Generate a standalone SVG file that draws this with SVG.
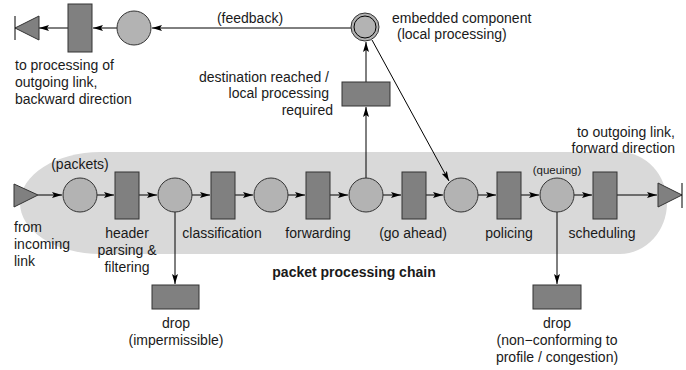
<svg xmlns="http://www.w3.org/2000/svg" width="686" height="370" viewBox="0 0 686 370">
<defs>
<marker id="ah" viewBox="0 0 10 6" refX="10" refY="3" markerWidth="10" markerHeight="6" markerUnits="userSpaceOnUse" orient="auto">
<path d="M0,0 L10,3 L0,6 L2,3 z" fill="#000"/>
</marker>
<style>
.c{fill:#b3b3b3;stroke:#333;stroke-width:1}
.r{fill:#808080;stroke:#333;stroke-width:1}
.t{fill:#808080;stroke:#333;stroke-width:1}
.e{stroke:#000;stroke-width:1;fill:none}
.a{stroke:#000;stroke-width:1;fill:none;marker-end:url(#ah)}
text{font-family:"Liberation Sans",Arial,sans-serif;font-size:14px;fill:#1a1a1a}
.m{text-anchor:middle}
.n{text-anchor:end}
.b{font-weight:bold}
.s{font-size:11.5px}
</style>
</defs>
<path id="chain-bg" d="M100,152 H620 A47,51 0 0 1 620,254 H100 A80,51 0 0 1 100,152 Z" fill="#d9d9d9"/>
<g id="connectors">
<path class="a" d="M38,195 H62"/>
<path class="a" d="M97,195 H114"/>
<path class="a" d="M139,195 H157"/>
<path class="a" d="M192,195 H210"/>
<path class="a" d="M235,195 H253"/>
<path class="a" d="M288,195 H305"/>
<path class="a" d="M330,195 H348"/>
<path class="a" d="M383,195 H401"/>
<path class="a" d="M426,195 H443"/>
<path class="a" d="M478,195 H496"/>
<path class="a" d="M521,195 H539"/>
<path class="a" d="M574,195 H592"/>
<path class="a" d="M617,195 H657"/>
<path class="a" d="M175,212 V284"/>
<path class="a" d="M557,212 V284"/>
<path class="a" d="M366,178 V107"/>
<path class="a" d="M366,82 V42"/>
<path class="a" d="M372,40 L449,181"/>
<path class="a" d="M351,28 H152"/>
<path class="a" d="M117,28 H93"/>
<path class="a" d="M68,28 H39"/>
</g>
<g id="in-link"><path class="t" d="M14,184 L38,195 L14,207 z"/></g>
<g id="out-link-fwd"><path class="t" d="M658,183 L682,195 L658,207 z"/><path class="e" d="M682,183 V208"/></g>
<g id="out-link-bwd"><path class="t" d="M39,16 L15,28 L39,40 z"/><path class="e" d="M15,16 V40"/></g>
<g id="q1"><circle class="c" cx="80" cy="195" r="17"/></g>
<g id="p-header"><rect class="r" x="115" y="172" width="24" height="47"/></g>
<g id="q2"><circle class="c" cx="175" cy="195" r="17"/></g>
<g id="p-class"><rect class="r" x="211" y="172" width="24" height="47"/></g>
<g id="q3"><circle class="c" cx="271" cy="195" r="17"/></g>
<g id="p-fwd"><rect class="r" x="306" y="172" width="24" height="47"/></g>
<g id="q4"><circle class="c" cx="366" cy="195" r="17"/></g>
<g id="p-goahead"><rect class="r" x="402" y="172" width="24" height="47"/></g>
<g id="q5"><circle class="c" cx="461" cy="195" r="17"/></g>
<g id="p-police"><rect class="r" x="497" y="172" width="24" height="47"/></g>
<g id="q6"><circle class="c" cx="557" cy="195" r="17"/></g>
<g id="p-sched"><rect class="r" x="593" y="172" width="24" height="47"/></g>
<g id="drop1"><rect class="r" x="152" y="285" width="47" height="24"/></g>
<g id="drop2"><rect class="r" x="533" y="285" width="48" height="24"/></g>
<g id="p-local"><rect class="r" x="342" y="82" width="48" height="24"/></g>
<g id="embedded"><circle class="c" cx="365" cy="27" r="14"/><circle class="e" cx="365" cy="27" r="11"/></g>
<g id="q-fb"><circle class="c" cx="134" cy="28" r="17"/></g>
<g id="p-fb"><rect class="r" x="68" y="4" width="24" height="48"/></g>
<g id="labels">
<text x="80" y="169" class="m">(packets)</text>
<text x="557" y="174" class="m s">(queuing)</text>
<text x="14" y="232">from</text>
<text x="14" y="249">incoming</text>
<text x="14" y="266">link</text>
<text x="127" y="238" class="m">header</text>
<text x="127" y="255" class="m">parsing &amp;</text>
<text x="127" y="272" class="m">filtering</text>
<text x="222" y="238" class="m">classification</text>
<text x="318" y="238" class="m">forwarding</text>
<text x="413" y="238" class="m">(go ahead)</text>
<text x="509" y="238" class="m">policing</text>
<text x="602" y="238" class="m">scheduling</text>
<text x="675" y="137" class="n">to outgoing link,</text>
<text x="675" y="153" class="n">forward direction</text>
<text x="354" y="277" class="m b">packet processing chain</text>
<text x="176" y="328" class="m">drop</text>
<text x="176" y="345" class="m">(impermissible)</text>
<text x="557" y="328" class="m">drop</text>
<text x="557" y="345" class="m">(non−conforming to</text>
<text x="557" y="362" class="m">profile / congestion)</text>
<text x="250" y="23" class="m">(feedback)</text>
<text x="392" y="23">embedded component</text>
<text x="397" y="39">(local processing)</text>
<text x="15" y="70">to processing of</text>
<text x="15" y="87">outgoing link,</text>
<text x="15" y="104">backward direction</text>
<text x="329" y="82" class="n">destination reached /</text>
<text x="329" y="98" class="n">local processing</text>
<text x="333" y="115" class="n">required</text>
</g>
</svg>
